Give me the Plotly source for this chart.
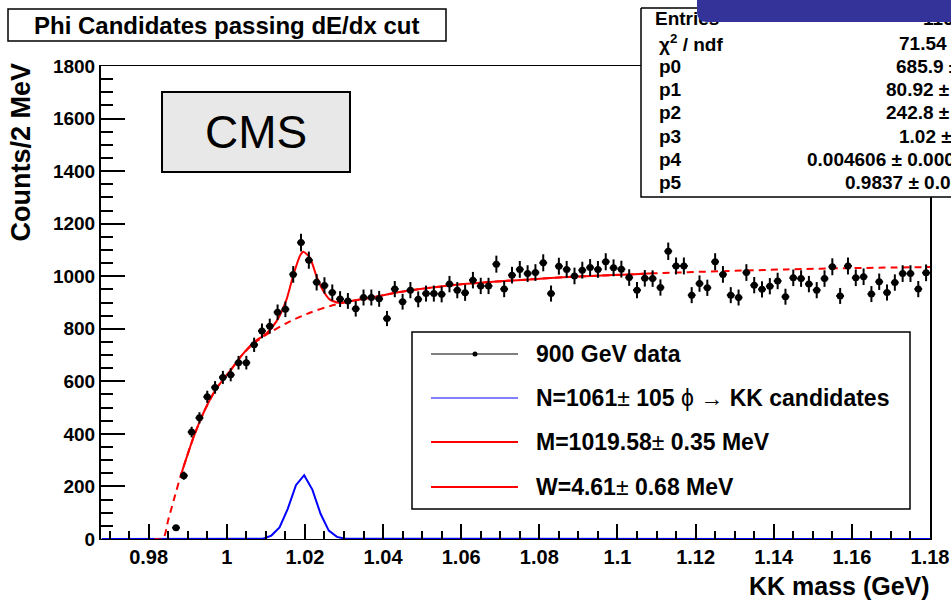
import numpy as np
import plotly.graph_objects as go

# ---------------- data ----------------
# KK invariant-mass histogram, 2 MeV bins starting at 0.968 GeV
BIN_LO = 0.968
BIN_W = 0.002
FIRST_FILLED_BIN = 9
counts = [
    43, 241, 407, 461, 541, 577, 615, 625, 671, 671,
    739, 792, 810, 863, 874, 1007, 1128, 1061, 977, 965,
    938, 913, 906, 876, 919, 919, 914, 839, 951, 903,
    947, 912, 934, 934, 931, 970, 947, 937, 985, 963,
    963, 1046, 951, 1004, 1026, 1010, 1014, 1051, 934, 1038,
    1026, 1001, 1023, 1033, 1026, 1055, 1032, 1027, 995, 947,
    992, 991, 957, 1095, 1039, 1039, 928, 972, 956, 1055,
    1007, 928, 919, 1014, 966, 950, 962, 982, 922, 994,
    991, 970, 947, 991, 1036, 925, 1039, 994, 998, 932,
    979, 938, 976, 1010, 1010, 951, 1013,
]

# background component of the fit (dashed)
bg_mass = [0.9815, 0.9837, 0.9850, 0.9868, 0.9882, 0.9914, 0.9944, 0.9974, 1.0010,
           1.0040, 1.0070, 1.0112, 1.0163, 1.0214, 1.0265, 1.0310, 1.0375, 1.0435,
           1.0520, 1.0606, 1.0691, 1.0776, 1.0862, 1.0947, 1.1032, 1.1092, 1.1263,
           1.1433, 1.1604, 1.1800]
bg_counts = [0, 0, 72, 168, 241, 384, 492, 574, 643, 702, 746, 788, 829, 862, 887,
             903, 920, 938, 956, 970, 980, 988, 996, 1002, 1007, 1011, 1019, 1026,
             1031, 1035]

# total fit, signal + background (solid, over the fit range)
fit_mass = [0.9882, 0.9914, 0.9944, 0.9974, 1.0010, 1.0040, 1.0070, 1.0100, 1.0128,
            1.0153, 1.0170, 1.0188, 1.0196, 1.0213, 1.0230, 1.0247, 1.0264, 1.0286,
            1.0307, 1.0333, 1.0375, 1.0435, 1.0520, 1.0606, 1.0691, 1.0776, 1.0862,
            1.0947, 1.1032, 1.1092]
fit_counts = [241, 384, 492, 574, 643, 702, 750, 780, 830, 912, 1003, 1080, 1093,
              1070, 998, 944, 911, 899, 902, 910, 920, 938, 956, 970, 980, 988, 996,
              1002, 1007, 1011]

# signal component (phi -> KK)
sig_mass = [0.968, 1.0093, 1.0114, 1.0135, 1.0156, 1.0177, 1.0198, 1.0219, 1.0240,
            1.0261, 1.0282, 1.0303, 1.180]
sig_counts = [0, 1, 13, 44, 115, 205, 243, 188, 96, 32, 8, 1, 0]

x_tick_vals = [0.98, 1.00, 1.02, 1.04, 1.06, 1.08, 1.10, 1.12, 1.14, 1.16, 1.18]
x_tick_text = ["0.98", "1", "1.02", "1.04", "1.06", "1.08", "1.1", "1.12", "1.14", "1.16", "1.18"]
y_tick_vals = [0, 200, 400, 600, 800, 1000, 1200, 1400, 1600, 1800]

stat_labels = ["Entries", "χ<sup>2</sup> / ndf", "p0", "p1", "p2", "p3", "p4", "p5"]
stat_values = ["11628", "71.54 / 67", "685.9 ± 18.3", "80.92 ± 10.41", "242.8 ± 24.0",
               "1.02 ± 0.00", "0.004606 ± 0.000680", "0.9837 ± 0.0008"]

title_text = "Phi Candidates passing dE/dx cut"
legend_texts = [
    "900 GeV data",
    "N=1061<span style='font-weight:normal'>±</span> 105 "
    "<span style='font-weight:normal'>ϕ → </span>KK candidates",
    "M=1019.58<span style='font-weight:normal'>±</span> 0.35 MeV",
    "W=4.61<span style='font-weight:normal'>±</span> 0.68 MeV",
]

# ---------------- geometry (canvas pixels) ----------------
W, H = 951, 606
PL, PR, PT, PB = 101, 930, 66, 539      # frame of the main histogram
X_RANGE = [0.9678, 1.18]
Y_RANGE = [0, 1800]
FONT = "Liberation Sans, Arial, Helvetica, sans-serif"


def px(x):
    return x / W


def py(y):
    return 1 - y / H


centers = BIN_LO + BIN_W * (np.arange(len(counts)) + FIRST_FILLED_BIN + 0.5)
counts_arr = np.array(counts, dtype=float)
errors = np.sqrt(counts_arr)

fig = go.Figure()

fig.add_trace(go.Scatter(
    x=sig_mass, y=sig_counts, mode="lines",
    line=dict(color="#0000ff", width=2),
    hoverinfo="skip", showlegend=False, cliponaxis=False))

fig.add_trace(go.Scatter(
    x=bg_mass, y=bg_counts, mode="lines",
    line=dict(color="#ff0000", width=2, dash="7px,5px", shape="spline", smoothing=0.6),
    hoverinfo="skip", showlegend=False, cliponaxis=False))

fig.add_trace(go.Scatter(
    x=fit_mass, y=fit_counts, mode="lines",
    line=dict(color="#ff0000", width=2, shape="spline", smoothing=0.6),
    hoverinfo="skip", showlegend=False))

fig.add_trace(go.Scatter(
    x=centers, y=counts_arr, mode="markers",
    marker=dict(color="black", size=7, symbol="circle"),
    error_y=dict(type="data", array=errors, color="black", thickness=2, width=0),
    error_x=dict(type="constant", value=BIN_W / 2, color="black", thickness=2, width=0),
    showlegend=False))

# ---- statistics box, drawn on a full-canvas overlay (pixel units) ----
stat_font = dict(family=FONT, size=19, color="black", weight="bold")
row_y = [20, 43.5, 66.5, 89.7, 112.9, 136.1, 159.3, 182.5]
value_left = [926, 897, 894, 884, 884, 897, 805, 843]

fig.add_trace(go.Scatter(
    x=[641, 980, 980, 641, 641], y=[8, 8, 197, 197, 8],
    xaxis="x2", yaxis="y2", mode="lines", fill="toself", fillcolor="white",
    line=dict(color="black", width=1.5), hoverinfo="skip", showlegend=False))
fig.add_trace(go.Scatter(
    x=[655, value_left[0] - 3], y=[row_y[0], row_y[0]],
    xaxis="x2", yaxis="y2", mode="text",
    text=[stat_labels[0], stat_values[0]], textposition="middle right",
    textfont=stat_font, hoverinfo="skip", showlegend=False))

shapes = []
annotations = []

for lab, val, yy, xl in zip(stat_labels[1:], stat_values[1:], row_y[1:], value_left[1:]):
    annotations.append(dict(xref="paper", yref="paper", x=px(657), y=py(yy),
                            text=lab, showarrow=False, xanchor="left", yanchor="middle",
                            font=stat_font))
    annotations.append(dict(xref="paper", yref="paper", x=px(xl), y=py(yy),
                            text=val, showarrow=False, xanchor="left", yanchor="middle",
                            font=stat_font))

# dark blue tab over the top of the statistics box
BLUE = "#333399"
tab_path = (f"M {px(697)},{py(0)} L {px(960)},{py(0)} L {px(960)},{py(22)} "
            f"L {px(707)},{py(22)} Q {px(697)},{py(22)} {px(697)},{py(12)} Z")
shapes.append(dict(type="path", xref="paper", yref="paper", path=tab_path,
                   line=dict(width=0), fillcolor=BLUE, layer="above"))

# title box
shapes.append(dict(type="rect", xref="paper", yref="paper",
                   x0=px(8), x1=px(446), y0=py(41), y1=py(9),
                   line=dict(color="black", width=1.5), fillcolor="white", layer="above"))
annotations.append(dict(xref="paper", yref="paper", x=px(226), y=py(25),
                        text=title_text, showarrow=False, xanchor="center", yanchor="middle",
                        font=dict(family=FONT, size=24, color="black", weight="bold")))

# CMS label box
shapes.append(dict(type="rect", xref="paper", yref="paper",
                   x0=px(162), x1=px(350), y0=py(172), y1=py(92),
                   line=dict(color="black", width=2), fillcolor="#e8e8e8", layer="above"))
annotations.append(dict(xref="paper", yref="paper", x=px(256), y=py(132),
                        text="CMS", showarrow=False, xanchor="center", yanchor="middle",
                        font=dict(family=FONT, size=46, color="black")))

# legend box
shapes.append(dict(type="rect", xref="paper", yref="paper",
                   x0=px(412), x1=px(910), y0=py(509), y1=py(332),
                   line=dict(color="black", width=1.5), fillcolor="white", layer="above"))
leg_y = [354, 398, 442, 487]
leg_col = ["black", "#0000ff", "#ff0000", "#ff0000"]
leg_w = [1, 1, 2, 2]
for txt, yy, col, lw in zip(legend_texts, leg_y, leg_col, leg_w):
    shapes.append(dict(type="line", xref="paper", yref="paper",
                       x0=px(431), x1=px(518), y0=py(yy), y1=py(yy),
                       line=dict(color=col, width=lw), layer="above"))
    annotations.append(dict(xref="paper", yref="paper", x=px(534), y=py(yy),
                            text=txt, showarrow=False, xanchor="left", yanchor="middle",
                            font=dict(family=FONT, size=23, color="black", weight="bold")))
shapes.append(dict(type="circle", xref="paper", yref="paper",
                   x0=px(472.5), x1=px(477.5), y0=py(356.5), y1=py(351.5),
                   line=dict(color="black", width=0), fillcolor="black", layer="above"))

# axis titles
annotations.append(dict(xref="paper", yref="paper", x=px(21), y=py(61),
                        text="Counts/2 MeV", textangle=-90, showarrow=False,
                        xanchor="center", yanchor="top",
                        font=dict(family=FONT, size=27, color="black", weight="bold")))
annotations.append(dict(xref="paper", yref="paper", x=px(932), y=py(586),
                        text="KK mass (GeV)", showarrow=False,
                        xanchor="right", yanchor="middle",
                        font=dict(family=FONT, size=25, color="black", weight="bold")))

fig.update_layout(
    width=W, height=H,
    margin=dict(l=0, r=0, t=0, b=0, pad=0, autoexpand=False),
    paper_bgcolor="white", plot_bgcolor="rgba(0,0,0,0)",
    showlegend=False,
    shapes=shapes, annotations=annotations,
    xaxis=dict(domain=[PL / W, PR / W], range=X_RANGE, automargin=False,
               showgrid=False, zeroline=False,
               showline=True, linecolor="black", linewidth=1, mirror=True,
               ticks="inside", ticklen=15, tickwidth=1.5, tickcolor="black",
               tickvals=x_tick_vals, ticktext=x_tick_text,
               minor=dict(ticks="inside", ticklen=8, tickwidth=1.5, tickcolor="black",
                          dtick=0.005, tick0=0.98),
               tickfont=dict(family=FONT, size=20, color="black", weight="bold")),
    yaxis=dict(domain=[1 - PB / H, 1 - PT / H], range=Y_RANGE, automargin=False,
               showgrid=False, zeroline=False,
               showline=True, linecolor="black", linewidth=2, mirror=True,
               ticks="inside", ticklen=24, tickwidth=1.5, tickcolor="black",
               tickvals=y_tick_vals,
               minor=dict(ticks="inside", ticklen=12, tickwidth=1.5, tickcolor="black",
                          dtick=50),
               tickfont=dict(family=FONT, size=19, color="black", weight="bold")),
    xaxis2=dict(domain=[0, 1], range=[0, W], visible=False, fixedrange=True,
                automargin=False),
    yaxis2=dict(domain=[0, 1], range=[H, 0], visible=False, fixedrange=True,
                automargin=False),
)

fig.write_html("out.html")
